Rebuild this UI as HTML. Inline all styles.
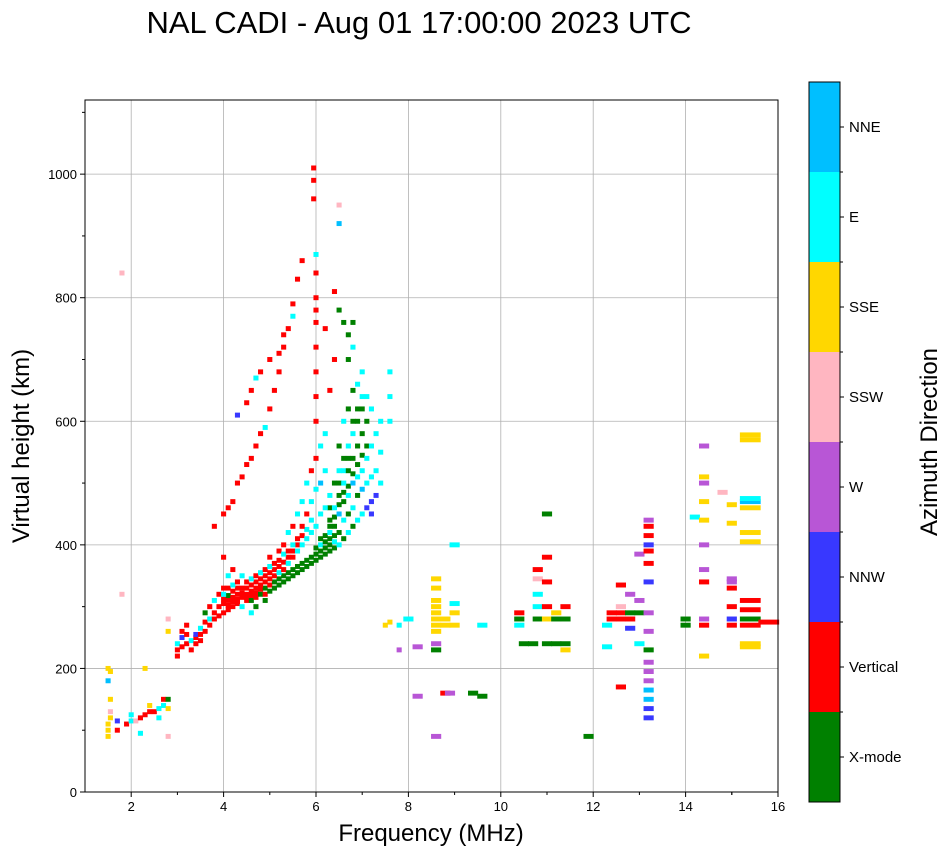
<!DOCTYPE html>
<html><head><meta charset="utf-8"><style>
body{margin:0;background:#fff}
text{font-family:"Liberation Sans","DejaVu Sans",sans-serif}
</style></head><body>
<svg id="chart" width="951" height="856" xmlns="http://www.w3.org/2000/svg">
<rect width="951" height="856" fill="#fff"/>
<text x="419" y="33" font-size="31" text-anchor="middle">NAL CADI - Aug 01 17:00:00 2023 UTC</text>
<g id="grid"></g>
<g id="marks"></g>
<rect x="85" y="100" width="693" height="692" fill="none" stroke="#000" stroke-width="1"/>
<g id="axes"></g>
<text x="431" y="841" font-size="24" text-anchor="middle">Frequency (MHz)</text>
<text transform="translate(29,446) rotate(-90)" font-size="24" text-anchor="middle">Virtual height (km)</text>
<g id="colorbar"></g>
<text transform="translate(937,442) rotate(-90)" font-size="24" text-anchor="middle">Azimuth Direction</text>
</svg>
<script>
const modeNames=["X-mode","Vertical","NNW","W","SSW","SSE","E","NNE"];
const xTicks=[2,4,6,8,10,12,14,16];
const yTicks=[0,200,400,600,800,1000];
const lowTrace=[[1.5,90,5],[1.5,100,5],[1.5,110,5],[1.55,120,5],[1.55,130,4],[1.55,150,5],[1.5,180,7],[1.5,200,5],[1.55,195,5],[1.7,100,1],[1.7,115,2],[1.9,110,1],[2.0,115,6],[2.0,125,6],[2.1,115,4],[2.2,120,1],[2.3,125,1],[2.4,130,1],[2.4,140,5],[2.5,130,1],[2.6,135,6],[2.6,120,6],[2.7,150,1],[2.7,140,6],[2.8,150,0],[2.8,135,5],[2.3,200,5],[1.8,840,4],[1.8,320,4],[2.2,95,6],[2.8,90,4],[2.8,280,4],[2.8,260,5]];
const mainTrace=[[3.0,220,1],[3.0,230,1],[3.0,240,6],[3.1,235,1],[3.1,250,2],[3.1,260,1],[3.2,240,1],[3.2,255,1],[3.2,270,1],[3.3,245,6],[3.3,230,1],[3.4,250,1],[3.4,255,2],[3.4,240,1],[3.5,255,1],[3.5,265,6],[3.5,245,1],[3.6,260,1],[3.6,275,1],[3.6,290,0],[3.7,270,1],[3.7,280,6],[3.7,300,1],[3.8,280,1],[3.8,290,1],[3.8,310,6],[3.9,285,1],[3.9,300,1],[3.9,320,1],[4.0,290,1],[4.0,305,1],[4.0,320,6],[4.0,330,1],[4.0,380,1],[4.1,295,1],[4.1,310,1],[4.1,330,1],[4.1,350,6],[4.2,300,1],[4.2,315,1],[4.2,335,6],[4.2,360,1],[4.3,305,1],[4.3,320,1],[4.3,340,1],[4.4,300,6],[4.4,315,1],[4.4,330,1],[4.4,350,6],[4.5,310,1],[4.5,320,1],[4.5,340,1],[4.6,310,0],[4.6,325,1],[4.6,345,6],[4.6,290,6],[4.7,315,1],[4.7,330,1],[4.7,350,1],[4.7,300,0],[4.8,320,0],[4.8,335,1],[4.8,355,6],[4.9,320,1],[4.9,340,1],[4.9,360,1],[4.9,310,0],[5.0,325,0],[5.0,345,1],[5.0,365,6],[5.0,380,1],[5.1,330,0],[5.1,350,1],[5.1,370,1],[5.2,335,0],[5.2,355,6],[5.2,375,1],[5.2,390,1],[5.3,340,0],[5.3,360,1],[5.3,385,6],[5.3,400,1],[5.4,345,0],[5.4,370,6],[5.4,390,1],[5.4,420,6],[5.5,350,0],[5.5,380,1],[5.5,400,6],[5.5,430,1],[5.6,355,0],[5.6,390,6],[5.6,410,1],[5.6,450,6],[5.7,360,0],[5.7,400,6],[5.7,430,1],[5.7,470,6],[5.8,365,0],[5.8,410,6],[5.8,450,1],[5.8,500,6],[5.9,370,0],[5.9,420,6],[5.9,470,6],[5.9,520,1],[6.0,375,0],[6.0,430,6],[6.0,490,6],[6.0,540,1],[6.1,380,0],[6.1,390,0],[6.1,400,6],[6.1,450,6],[6.1,500,7],[6.1,560,6],[6.2,385,0],[6.2,395,0],[6.2,405,0],[6.2,460,6],[6.2,520,6],[6.2,580,6],[6.3,390,0],[6.3,400,0],[6.3,410,0],[6.3,420,6],[6.3,440,0],[6.3,480,6],[6.4,395,0],[6.4,405,6],[6.4,415,0],[6.4,430,0],[6.4,460,6],[6.4,500,0],[6.5,400,6],[6.5,420,0],[6.5,450,7],[6.5,480,0],[6.5,520,6],[6.5,560,0],[6.6,410,0],[6.6,440,6],[6.6,470,0],[6.6,500,6],[6.6,540,0],[6.6,600,6],[6.7,420,6],[6.7,450,0],[6.7,480,6],[6.7,520,0],[6.7,560,6],[6.7,620,0],[6.7,700,0],[6.8,430,0],[6.8,460,6],[6.8,500,7],[6.8,540,0],[6.8,580,6],[6.8,650,0],[6.8,720,6],[6.9,440,6],[6.9,480,0],[6.9,510,6],[6.9,560,0],[6.9,600,0],[6.9,660,6],[7.0,450,6],[7.0,490,7],[7.0,520,6],[7.0,580,0],[7.0,620,0],[7.0,680,6],[7.1,460,2],[7.1,500,6],[7.1,540,6],[7.1,600,0],[7.1,640,6],[7.2,470,2],[7.2,450,2],[7.2,510,6],[7.2,560,6],[7.2,620,6],[7.3,480,2],[7.3,520,6],[7.3,580,6],[7.4,500,6],[7.4,550,6],[7.4,600,6],[7.6,600,6],[7.6,640,6],[7.6,680,6]];
const mainBand=[[4.0,312,1],[4.1,302,1],[4.1,318,0],[4.2,308,1],[4.2,325,1],[4.3,312,1],[4.3,330,1],[4.4,322,1],[4.5,315,1],[4.5,330,1],[4.6,318,1],[4.6,335,1],[4.7,322,1],[4.7,340,1],[4.8,328,1],[4.8,345,1],[4.9,330,0],[4.9,350,1],[5.0,335,1],[5.0,355,1],[5.1,340,0],[5.1,360,1],[5.2,345,0],[5.2,365,1],[5.3,350,0],[5.3,372,1],[5.4,355,0],[5.4,380,1],[5.5,360,0],[5.5,390,1],[5.6,365,0],[5.6,400,1],[5.7,370,0],[5.7,415,1],[5.8,375,0],[5.8,425,6],[5.9,380,0],[5.9,440,6],[6.0,385,0],[6.0,395,0],[6.1,410,0],[6.2,415,0],[6.3,430,0],[6.4,445,0],[6.5,465,0],[6.6,485,0],[6.7,495,0],[6.8,515,0],[6.9,530,0],[7.0,545,0],[7.1,560,0],[6.3,460,0],[6.5,500,0],[6.6,520,6],[6.7,540,0],[6.8,600,0],[6.9,620,0],[7.0,640,6],[6.6,760,0],[6.7,740,0],[6.8,760,0],[6.5,780,0]];
const upperTrace=[[3.8,430,1],[4.0,450,1],[4.1,460,1],[4.2,470,1],[4.3,500,1],[4.4,510,1],[4.5,530,1],[4.6,540,1],[4.7,560,1],[4.8,580,1],[4.9,590,6],[5.0,620,1],[5.1,650,1],[5.2,680,1],[5.3,720,1],[5.4,750,1],[5.5,790,1],[5.6,830,1],[5.7,860,1],[4.3,610,2],[4.5,630,1],[4.6,650,1],[4.7,670,6],[4.8,680,1],[5.0,700,1],[5.2,710,1],[5.3,740,1],[5.5,770,6],[5.95,1010,1],[5.95,990,1],[5.95,960,1],[6.0,870,6],[6.0,840,1],[6.0,800,1],[6.0,780,1],[6.0,760,1],[6.0,720,1],[6.0,680,1],[6.0,640,1],[6.0,600,1],[6.2,750,1],[6.4,810,1],[6.5,950,4],[6.5,920,7],[6.4,700,1],[6.3,650,1]];
const midCluster=[[8.6,230,0],[8.6,240,3],[8.6,260,5],[8.6,270,5],[8.6,280,5],[8.6,290,5],[8.6,300,5],[8.6,310,5],[8.6,330,5],[8.6,345,5],[8.8,270,5],[8.8,280,5],[9.0,270,5],[9.0,290,5],[9.0,305,6],[8.2,235,3],[8.2,155,3],[8.6,90,3],[8.8,160,1],[8.9,160,3],[9.4,160,0],[9.6,155,0],[9.0,400,6],[9.6,270,6],[7.5,270,5],[7.6,275,5],[7.8,270,6],[8.0,280,6],[7.8,230,3]];
const highCluster=[[10.4,280,0],[10.4,290,1],[10.4,270,6],[10.5,240,0],[10.7,240,0],[10.8,280,0],[10.8,300,6],[10.8,320,6],[10.8,345,4],[10.8,360,1],[11.0,240,0],[11.0,280,5],[11.0,300,1],[11.0,340,1],[11.0,380,1],[11.0,450,0],[11.2,240,0],[11.2,280,0],[11.2,290,5],[11.4,240,0],[11.4,280,0],[11.4,300,1],[11.4,230,5],[11.9,90,0],[12.4,290,1],[12.4,280,1],[12.3,270,6],[12.3,235,6],[12.6,290,1],[12.6,280,1],[12.6,300,4],[12.6,335,1],[12.6,170,1],[12.8,290,0],[12.8,280,1],[12.8,265,2],[12.8,320,3],[13.0,290,0],[13.0,310,3],[13.0,240,6],[13.0,385,3],[13.2,120,2],[13.2,135,2],[13.2,150,7],[13.2,165,7],[13.2,180,3],[13.2,195,3],[13.2,210,3],[13.2,230,0],[13.2,260,3],[13.2,290,3],[13.2,340,2],[13.2,370,1],[13.2,390,1],[13.2,400,2],[13.2,415,1],[13.2,430,1],[13.2,440,3],[14.0,270,0],[14.0,280,0],[14.2,445,6],[14.4,560,3],[14.4,510,5],[14.4,500,3],[14.4,470,5],[14.4,440,5],[14.4,400,3],[14.4,360,3],[14.4,340,1],[14.4,280,3],[14.4,270,1],[14.4,220,5],[14.8,485,4],[15.0,270,1],[15.0,280,2],[15.0,300,1],[15.0,330,1],[15.0,340,3],[15.0,345,3],[15.0,435,5],[15.0,465,5],[15.4,235,5],[15.4,240,5],[15.4,270,1],[15.4,280,0],[15.4,295,1],[15.4,310,1],[15.4,405,5],[15.4,420,5],[15.4,460,5],[15.4,470,7],[15.4,475,6],[15.4,570,5],[15.4,578,5],[15.8,275,1]];
const colors=["#008000","#ff0000","#3838ff","#b856d6","#ffb6c1","#ffd700","#00ffff","#00bfff"];
const X0=85,X1=778,Y0=792,Y1=100,FMIN=1,FMAX=16,HMIN=0,HMAX=1120;
const xs=f=>X0+(f-FMIN)/(FMAX-FMIN)*(X1-X0);
const ys=h=>Y0-(h-HMIN)/(HMAX-HMIN)*(Y0-Y1);
const NS="http://www.w3.org/2000/svg";
function mk(tag,attrs,parent){const e=document.createElementNS(NS,tag);for(const k in attrs)e.setAttribute(k,attrs[k]);parent.appendChild(e);return e;}
const grid=document.getElementById('grid'),axes=document.getElementById('axes'),marks=document.getElementById('marks'),cb=document.getElementById('colorbar');
xTicks.forEach(t=>{
 const l=mk('line',{x1:xs(t),x2:xs(t),y1:Y1,y2:Y0,stroke:'#b0b0b0','stroke-width':0.8},grid);
 
 
 mk('line',{x1:xs(t),x2:xs(t),y1:Y0,y2:Y0+5,stroke:'#000'},axes);
 const tx=mk('text',{x:xs(t),y:Y0+19,'font-size':13,'text-anchor':'middle'},axes);tx.textContent=t;
 
 
 if(t-1>FMIN) mk('line',{x1:xs(t-1),x2:xs(t-1),y1:Y0,y2:Y0+3,stroke:'#000'},axes);
});
mk('line',{x1:xs(15),x2:xs(15),y1:Y0,y2:Y0+3,stroke:'#000'},axes);
yTicks.forEach(t=>{
 if(t>0){const l=mk('line',{x1:X0,x2:X1,y1:ys(t),y2:ys(t),stroke:'#b0b0b0','stroke-width':0.8},grid);
 
 }
 mk('line',{x1:X0-5,x2:X0,y1:ys(t),y2:ys(t),stroke:'#000'},axes);
 const tx=mk('text',{x:X0-8,y:ys(t)+5,'font-size':13,'text-anchor':'end'},axes);tx.textContent=t;
 
 
 mk('line',{x1:X0-3,x2:X0,y1:ys(t+100),y2:ys(t+100),stroke:'#000'},axes);
});
[lowTrace,mainBand,mainTrace,upperTrace,midCluster,highCluster].forEach(arr=>arr.forEach(p=>{
 const f=p[0],h=p[1],m=p[2];const w=(f<8?0.11:(f>15.2?0.45:0.22));
 const r=mk('rect',{x:xs(f-w/2),y:ys(h+4),width:xs(f+w/2)-xs(f-w/2),height:ys(h-4)-ys(h+4),fill:colors[m]},marks);
 
 
}));
const CX=809,CW=31,CT=82,CB=802,seg=(CB-CT)/modeNames.length;
modeNames.forEach((n,i)=>{
 const yy=CB-(i+1)*seg;
 const r=mk('rect',{x:CX,y:yy,width:CW,height:seg,fill:colors[i]},cb);
 
 
 mk('line',{x1:CX+CW,x2:CX+CW+4,y1:yy+seg/2,y2:yy+seg/2,stroke:'#000'},cb);
 if(i>0)mk('line',{x1:CX+CW,x2:CX+CW+3,y1:yy+seg,y2:yy+seg,stroke:'#000'},cb);
 const tx=mk('text',{x:CX+CW+9,y:yy+seg/2+5,'font-size':15},cb);tx.textContent=n;
 
 
});
mk('rect',{x:CX,y:CT,width:CW,height:CB-CT,fill:'none',stroke:'#000'},cb);
</script>
</body></html>
